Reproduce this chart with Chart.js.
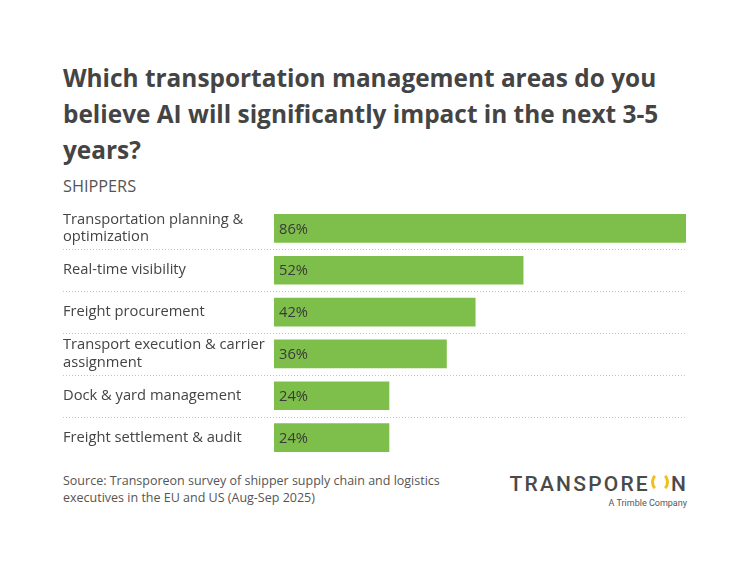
<!DOCTYPE html>
<html lang="en">
<head>
    <meta charset="UTF-8">
    <title>AI impact on transportation management</title>
    <script src="https://cdn.jsdelivr.net/npm/chart.js"></script>
    <style>
        body { margin: 0; background: #fff; font-family: "Open Sans", sans-serif; color: #444; }
        .page { position: relative; width: 750px; height: 571px; overflow: hidden; }
        h1 { position: absolute; left: 63px; top: 60px; margin: 0; width: 640px;
             font-size: 24.4px; line-height: 36px; font-weight: 700; color: #444; }
        .sub { position: absolute; left: 63px; top: 176px; font-size: 16.3px; line-height: 20px; color: #555; }
        .chart-box { position: absolute; left: 63px; top: 200px; width: 640px; height: 265px; }
        .source { position: absolute; left: 63px; top: 472px; font-size: 12.5px; line-height: 17px; color: #555; }
        .logo { position: absolute; right: 62px; top: 472px; text-align: right; }
        .logo .name { font-family: Roboto, sans-serif; font-weight: 500; font-size: 21px; letter-spacing: 2.2px;
                      color: #4a4a4a; line-height: 24px; }
        .logo .o { display: inline-block; width: 12px; height: 14px; border: 3px solid #f2bf1a;
                   border-top-color: transparent; border-bottom-color: transparent; border-radius: 50%;
                   vertical-align: -1px; margin: 0 2px 0 1px; }
        .logo .tag { font-family: Roboto, sans-serif; font-size: 9px; color: #555; margin-top: 2px; margin-right: 1px; }
    </style>
</head>
<body>
<div class="page">
    <h1>Which transportation management areas do you believe AI will significantly impact in the next 3-5 years?</h1>
    <div class="sub">SHIPPERS</div>
    <div class="chart-box"><canvas id="grafico"></canvas></div>
    <div class="source">Source: Transporeon survey of shipper supply chain and logistics<br>executives in the EU and US (Aug-Sep 2025)</div>
    <div class="logo">
        <div class="name">TRANSPORE<span class="o"></span>N</div>
        <div class="tag">A Trimble Company</div>
    </div>
</div>

<script>
    // datos del grafico
    const categorias = [
        ['Transportation planning &', 'optimization'],
        'Real-time visibility',
        'Freight procurement',
        ['Transport execution & carrier', 'assignment'],
        'Dock & yard management',
        'Freight settlement & audit'
    ];
    const valores = [86, 52, 42, 36, 24, 24];

    // lineas punteadas entre filas
    const separadores = {
        id: 'separadores',
        beforeDatasetsDraw(chart) {
            const ctx = chart.ctx;
            const y = chart.scales.y;
            ctx.save();
            ctx.strokeStyle = '#c4c4c4';
            ctx.lineWidth = 1;
            ctx.setLineDash([1, 2]);
            for (let i = 0; i < categorias.length - 1; i++) {
                const py = Math.round((y.getPixelForValue(i) + y.getPixelForValue(i + 1)) / 2) + 0.5;
                ctx.beginPath();
                ctx.moveTo(y.left, py);
                ctx.lineTo(chart.chartArea.right, py);
                ctx.stroke();
            }
            ctx.restore();
        }
    };

    // porcentaje dentro de cada barra
    const etiquetas = {
        id: 'etiquetas',
        afterDatasetsDraw(chart) {
            const ctx = chart.ctx;
            const meta = chart.getDatasetMeta(0);
            ctx.save();
            ctx.font = '14.7px "Open Sans"';
            ctx.fillStyle = '#3a3a3a';
            ctx.textBaseline = 'middle';
            meta.data.forEach((bar, i) => {
                ctx.fillText(valores[i] + '%', bar.base + 5, bar.y + 1);
            });
            ctx.restore();
        }
    };

    const ctx = document.getElementById('grafico').getContext('2d');
    new Chart(ctx, {
        type: 'bar',
        data: {
            labels: categorias,
            datasets: [{
                data: valores,
                backgroundColor: '#7dbf4a',
                barThickness: 28
            }]
        },
        options: {
            indexAxis: 'y',
            responsive: true,
            maintainAspectRatio: false,
            animation: false,
            layout: { padding: { top: 7.5, bottom: 6.5, left: 0, right: 17 } },
            plugins: { legend: { display: false }, tooltip: { enabled: false } },
            scales: {
                x: { display: false, min: 0, max: 86 },
                y: {
                    grid: { display: false },
                    border: { display: false },
                    ticks: {
                        crossAlign: 'far',
                        padding: 0,
                        color: '#444',
                        font: { family: '"Open Sans"', size: 14.7, lineHeight: 1.2 }
                    },
                    afterFit(scale) {
                        scale.width = 211;
                        scale.paddingTop = 0;
                        scale.paddingBottom = 0;
                    }
                }
            }
        },
        plugins: [separadores, etiquetas]
    });
</script>
</body>
</html>
